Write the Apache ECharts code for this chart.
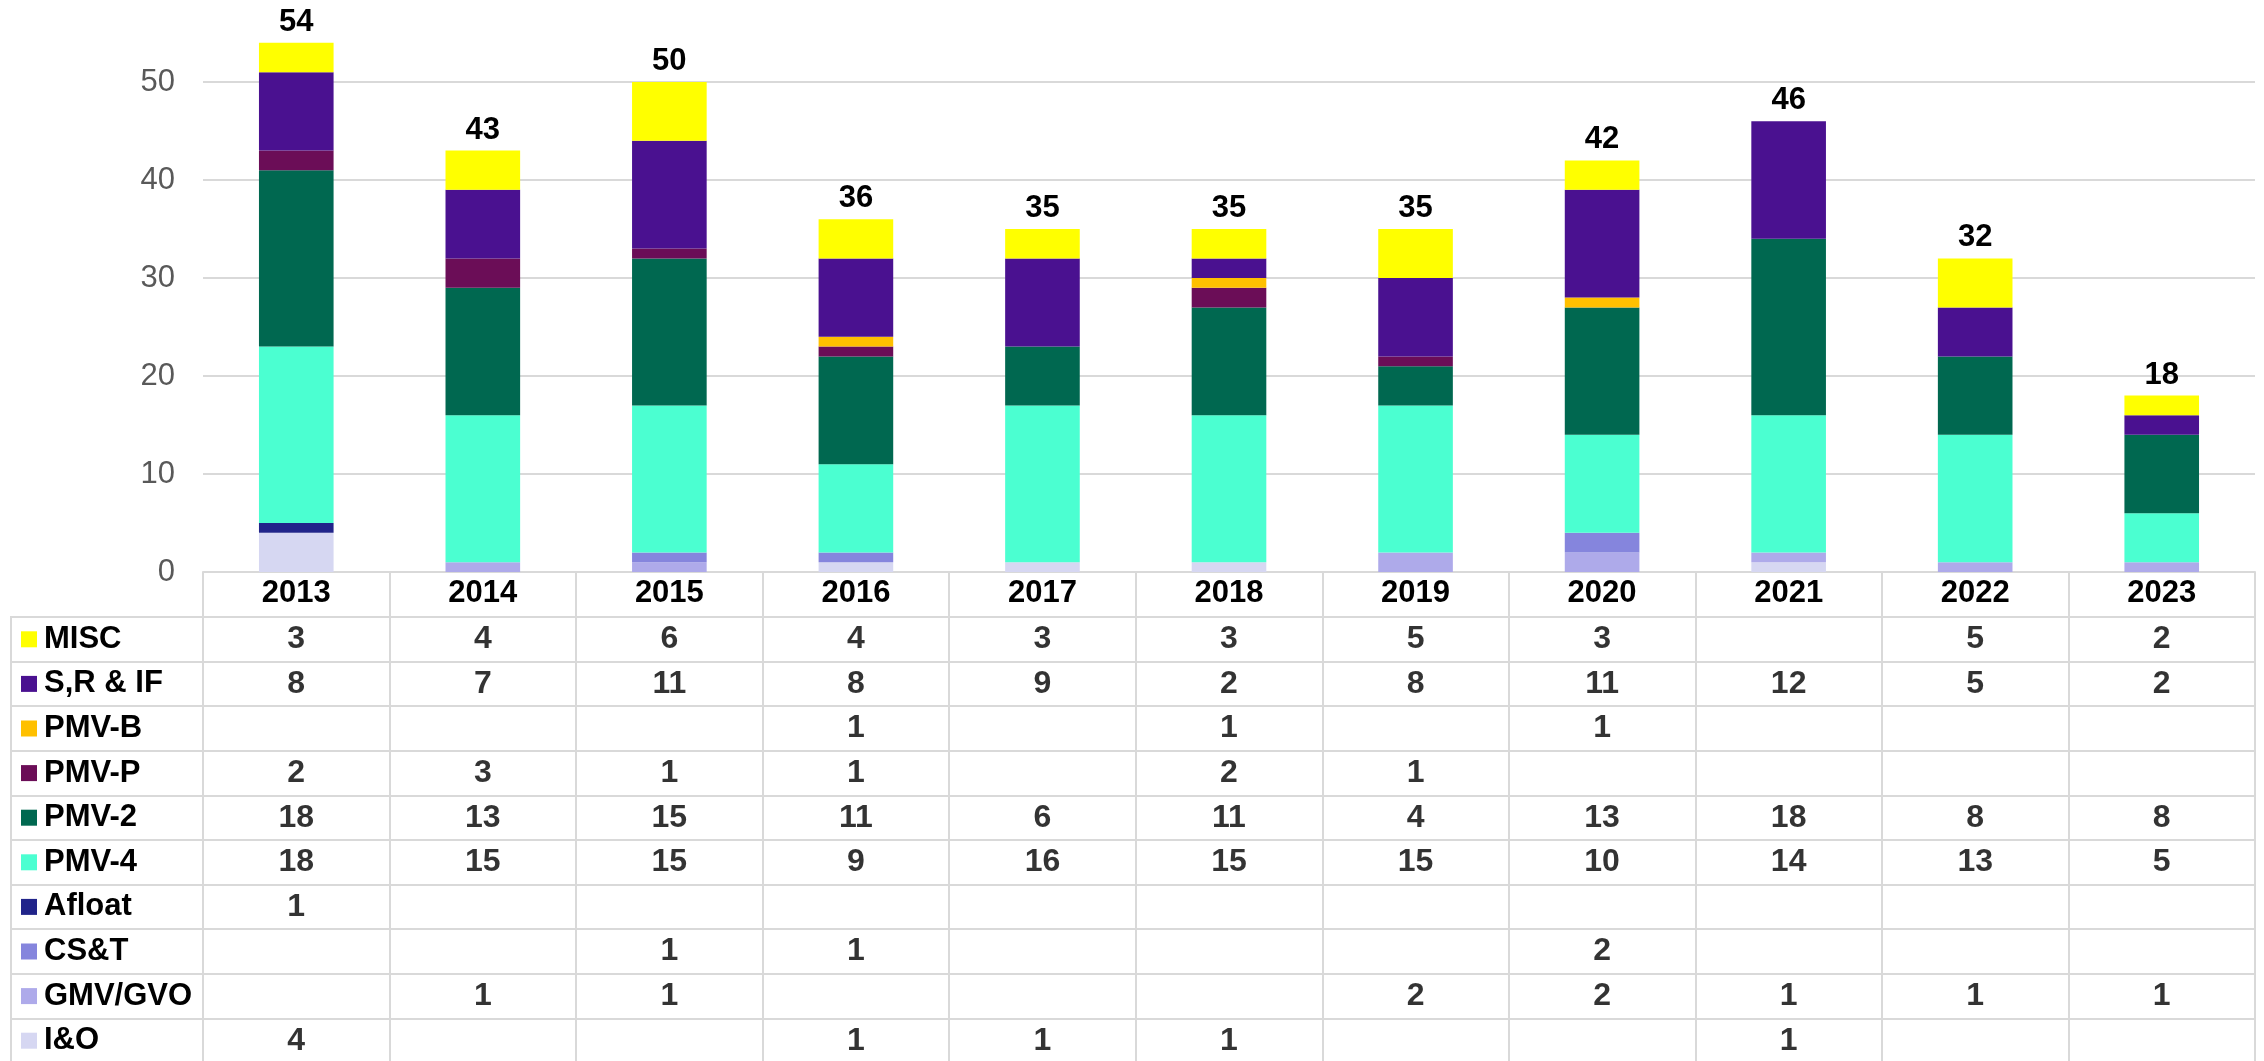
<!DOCTYPE html>
<html>
<head>
<meta charset="utf-8">
<script src="https://cdn.jsdelivr.net/npm/echarts@6/dist/echarts.min.js"></script>
<style>
html,body{margin:0;padding:0;background:#fff;}
#chart{width:2264px;height:1061px;}
</style>
</head>
<body>
<div id="chart"></div>
<script>
// data
var years = ['2013','2014','2015','2016','2017','2018','2019','2020','2021','2022','2023'];
var rowNames = ['MISC','S,R & IF','PMV-B','PMV-P','PMV-2','PMV-4','Afloat','CS&T','GMV/GVO','I&O'];
var rowColors = ['#ffff00','#4a1190','#ffc000','#6b0d57','#006850','#4bffd1','#21248a','#8585dd','#aeaaea','#d6d7f2'];
var misc   = [3, 4, 6, 4, 3, 3, 5, 3, null, 5, 2];
var srif   = [8, 7, 11, 8, 9, 2, 8, 11, 12, 5, 2];
var pmvB   = [null, null, null, 1, null, 1, null, 1, null, null, null];
var pmvP   = [2, 3, 1, 1, null, 2, 1, null, null, null, null];
var pmv2   = [18, 13, 15, 11, 6, 11, 4, 13, 18, 8, 8];
var pmv4   = [18, 15, 15, 9, 16, 15, 15, 10, 14, 13, 5];
var afloat = [1, null, null, null, null, null, null, null, null, null, null];
var cst    = [null, null, 1, 1, null, null, null, 2, null, null, null];
var gmv    = [null, 1, 1, null, null, null, 2, 2, 1, 1, 1];
var io     = [4, null, null, 1, 1, 1, null, null, 1, null, null];
var yTicks = [0, 10, 20, 30, 40, 50, 60];

var rows = [misc, srif, pmvB, pmvP, pmv2, pmv4, afloat, cst, gmv, io];

var FONT = 'Arial, "Liberation Sans", sans-serif';
var LINE = '#d9d9d9';

// totals above bars
var totals = years.map(function (y, i) {
    var s = 0;
    rows.forEach(function (r) { s += r[i] || 0; });
    return s;
});

// stacked bars, bottom (I&O) to top (MISC)
var series = [];
for (var k = rows.length - 1; k >= 0; k--) {
    series.push({
        name: rowNames[k],
        type: 'bar',
        stack: 'all',
        barWidth: '40%',
        xAxisIndex: 0,
        yAxisIndex: 0,
        itemStyle: {color: rowColors[k]},
        data: rows[k]
    });
}
series.push({
    name: 'total',
    type: 'line',
    xAxisIndex: 0,
    yAxisIndex: 0,
    symbol: 'circle',
    symbolSize: 0,
    showSymbol: true,
    itemStyle: {color: 'transparent'},
    lineStyle: {opacity: 0},
    label: {
        show: true, position: 'top', distance: 5,
        fontFamily: FONT, fontSize: 31, fontWeight: 'bold', color: '#000'
    },
    data: totals
});

// data table cells
var cells = [];
rows.forEach(function (r, ri) {
    r.forEach(function (v, ci) {
        if (v !== null) cells.push([ci, ri, v]);
    });
});
series.push({
    name: 'table',
    type: 'scatter',
    xAxisIndex: 1,
    yAxisIndex: 1,
    symbolSize: 0,
    itemStyle: {color: 'transparent'},
    label: {
        show: true, position: 'inside',
        fontFamily: FONT, fontSize: 32, fontWeight: 'bold', color: '#000',
        textBorderWidth: 0,
        formatter: function (p) { return p.value[2]; }
    },
    data: cells
});

// rich squares for the row headers
var rich = {t: {fontFamily: FONT, fontSize: 31, fontWeight: 'bold', color: '#000', padding: [0, 0, 0, 7], verticalAlign: 'middle'}};
rowColors.forEach(function (c, i) {
    rich['s' + i] = {width: 16, height: 16, backgroundColor: c, verticalAlign: 'middle'};
});

var myChart = echarts.init(document.getElementById('chart'));
var option = {
    animation: false,
    backgroundColor: '#fff',
    grid: [
        {left: 203, right: 9, top: -16, bottom: 489, outerBoundsMode: 'none'},
        {left: 203, right: 9, top: 617, bottom: -2, outerBoundsMode: 'none'}
    ],
    xAxis: [
        {
            type: 'category', gridIndex: 0, data: years,
            axisLine: {lineStyle: {color: LINE, width: 2}},
            axisTick: {show: true, interval: 0, length: 45, lineStyle: {color: LINE, width: 2}},
            axisLabel: {interval: 0, margin: 6, fontFamily: FONT, fontSize: 31, fontWeight: 'bold', color: '#000'}
        },
        {
            type: 'category', gridIndex: 1, data: years, position: 'top',
            axisLine: {show: true, lineStyle: {color: LINE, width: 2}},
            axisTick: {show: false},
            axisLabel: {show: false},
            splitLine: {show: true, interval: 0, lineStyle: {color: LINE, width: 2}}
        }
    ],
    yAxis: [
        {
            type: 'value', gridIndex: 0,
            min: yTicks[0], max: yTicks[yTicks.length - 1], interval: yTicks[1] - yTicks[0],
            axisLine: {show: false},
            axisTick: {show: false},
            axisLabel: {margin: 28, fontFamily: FONT, fontSize: 31, color: '#595959'},
            splitLine: {lineStyle: {color: LINE, width: 2}}
        },
        {
            type: 'category', gridIndex: 1, data: rowNames, inverse: true,
            axisLine: {show: true, lineStyle: {color: LINE, width: 2}},
            axisTick: {show: true, interval: 0, length: 193, lineStyle: {color: LINE, width: 2}},
            axisLabel: {
                interval: 0, margin: 182, align: 'left', rich: rich,
                formatter: function (v, i) { return '{s' + i + '|}{t|' + v + '}'; }
            },
            splitLine: {show: true, interval: 0, lineStyle: {color: LINE, width: 2}}
        }
    ],
    graphic: [{
        type: 'line', silent: true,
        shape: {x1: 11, y1: 617, x2: 11, y2: 1061},
        style: {stroke: LINE, lineWidth: 2}
    }],
    series: series
};
myChart.setOption(option);
</script>
</body>
</html>
